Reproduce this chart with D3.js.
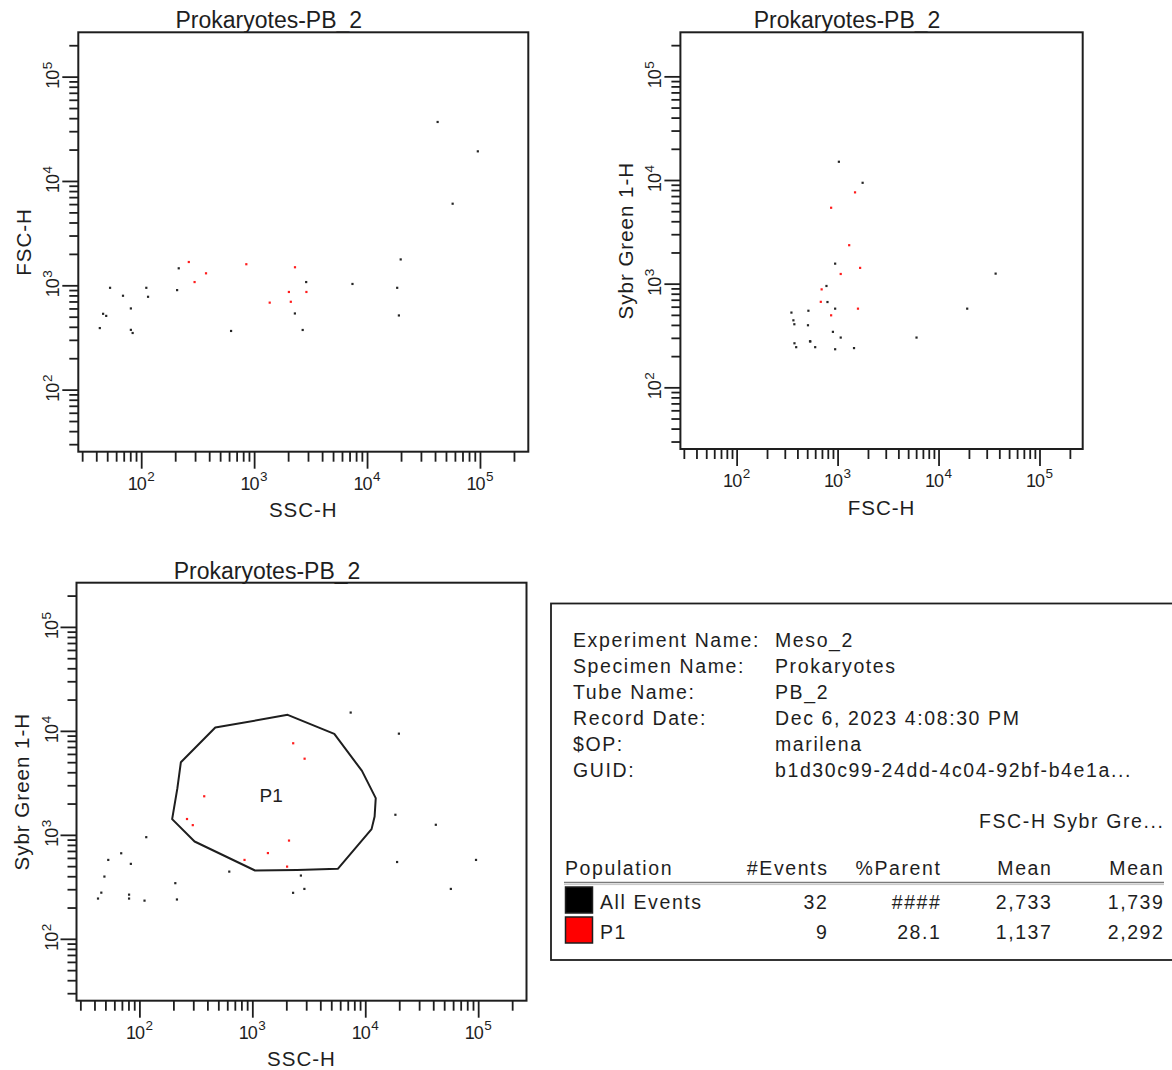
<!DOCTYPE html>
<html>
<head>
<meta charset="utf-8">
<script src="https://cdn.jsdelivr.net/npm/d3@7"></script>
<style>
  body { margin: 0; background: #fff; }
  svg { display: block; }
  text { font-family: "Liberation Sans", Arial, sans-serif; fill: #1e1e1e; }
</style>
</head>
<body>
<svg id="chart" width="1172" height="1070"></svg>
<script>
// Recorded events: one entry per event, same order in every array
const ssc  = [264, 853, 2301, 375, 297, 2032, 2904, 2113, 1374,
              42170, 95719, 57280, 19861, 215, 2891, 7430, 53, 111, 18493,
              208, 69, 115, 81, 2296, 19143, 46, 49, 43, 81, 84, 625, 2692];
const fsc  = [1672, 1592, 1489, 1303, 1074, 863, 863, 695, 682,
              36770, 19231, 6053, 1770, 1455, 1074, 1030, 946, 946, 946,
              899, 794, 776, 600, 537, 514, 533, 509, 389, 374, 349, 365, 373];
const sybr = [1420, 574, 7600, 2350, 1240, 495, 5400, 881, 668,
              1250, 574, 302, 9400, 239, 302, 15000, 574, 233, 1560,
              343, 665, 950, 244, 277, 548, 278, 397, 244, 266, 526, 443, 406];

// P1 gate outline on SSC-H vs Sybr Green 1-H
const gateSSC  = [470, 2056, 5321, 9354, 12388, 12106, 11376, 5715, 2489, 1057, 308, 195, 217, 233];
const gateSybr = [10765, 14256, 9354, 4121, 2254, 1500, 1135, 471, 460, 454, 863, 1416, 2812, 5000];
const gateLabelAt = [1469, 2388];

// Decade exponents shown on every log axis
const decadeExponents = [2, 3, 4, 5];

// Experiment header block
const infoLabels = ["Experiment Name:", "Specimen Name:", "Tube Name:", "Record Date:", "$OP:", "GUID:"];
const infoValues = ["Meso_2", "Prokaryotes", "PB_2", "Dec 6, 2023 4:08:30 PM", "marilena", "b1d30c99-24dd-4c04-92bf-b4e1a..."];
const populationNames = ["All Events", "P1"];
const populationColors = ["#000000", "#ff0000"];
const plotTitle = "Prokaryotes-PB_2";

// Display range of the log axes
const xDomain = [Math.pow(10, 1.443), Math.pow(10, 5.428)];
const yDomain = [Math.pow(10, 1.405), Math.pow(10, 5.425)];

const svg = d3.select("#chart");

const gatePoly = gateSSC.map((v, i) => [Math.log10(v), Math.log10(gateSybr[i])]);
const events = ssc.map((v, i) => {
  const e = { ssc: v, fsc: fsc[i], sybr: sybr[i] };
  e.inP1 = d3.polygonContains(gatePoly, [Math.log10(e.ssc), Math.log10(e.sybr)]);
  return e;
});

function tickSets(domain) {
  const major = [], minor = [];
  for (let k = 1; k <= 5; k++) {
    for (let m = 1; m <= 9; m++) {
      const v = m * Math.pow(10, k);
      if (v < domain[0] || v > domain[1]) continue;
      (m === 1 ? major : minor).push(v);
    }
  }
  return { major, minor };
}

function styleAxis(sel) {
  sel.select(".domain").remove();
  sel.selectAll(".tick line").attr("stroke", "#1e1e1e").attr("stroke-width", 1.8);
}

// "10" with a raised exponent, centred on the group origin
function decadeLabel(g, exp, raise) {
  const t = g.append("text").attr("text-anchor", "middle");
  t.append("tspan").attr("font-size", 18).attr("letter-spacing", -1).text("10");
  t.append("tspan").attr("font-size", 13.5).attr("dx", 1.5).attr("dy", -raise).text(exp);
}

const plots = [
  { left: 78.3, right: 528.3, top: 32.3, bottom: 451.7, xKey: "ssc", yKey: "fsc", xTitle: "SSC-H", yTitle: "FSC-H" },
  { left: 680.4, right: 1082.7, top: 32.3, bottom: 449, xKey: "fsc", yKey: "sybr", xTitle: "FSC-H", yTitle: "Sybr Green 1-H" },
  { left: 76.5, right: 526.5, top: 582.7, bottom: 1000.7, xKey: "ssc", yKey: "sybr", xTitle: "SSC-H", yTitle: "Sybr Green 1-H", gate: true }
];

const xt = tickSets(xDomain), yt = tickSets(yDomain);

plots.forEach(p => {
  const x = d3.scaleLog().domain(xDomain).range([p.left, p.right]);
  const y = d3.scaleLog().domain(yDomain).range([p.bottom, p.top]);
  const g = svg.append("g");

  // events
  g.append("g").selectAll("rect")
    .data(events.slice().sort((a, b) => a.inP1 - b.inP1))
    .join("rect")
    .attr("x", d => x(d[p.xKey]) - 1.1)
    .attr("y", d => y(d[p.yKey]) - 1.1)
    .attr("width", 2.2).attr("height", 2.2)
    .attr("fill", d => d.inP1 ? "#ff1c1c" : "#262626");

  // gate
  if (p.gate) {
    const line = d3.line().x(d => x(d[0])).y(d => y(d[1])).curve(d3.curveLinearClosed);
    g.append("path")
      .attr("d", line(gateSSC.map((v, i) => [v, gateSybr[i]])))
      .attr("fill", "none").attr("stroke", "#1e1e1e").attr("stroke-width", 2)
      .attr("stroke-linejoin", "round");
    g.append("text")
      .attr("x", x(gateLabelAt[0])).attr("y", y(gateLabelAt[1]))
      .attr("text-anchor", "middle").attr("dominant-baseline", "central")
      .attr("font-size", 19).text("P1");
  }

  // bottom axis
  g.append("g").attr("transform", `translate(0,${p.bottom})`)
    .call(d3.axisBottom(x).tickValues(xt.minor).tickSize(10).tickFormat(""))
    .call(styleAxis);
  g.append("g").attr("transform", `translate(0,${p.bottom})`)
    .call(d3.axisBottom(x).tickValues(xt.major).tickSize(17).tickFormat(""))
    .call(styleAxis);
  decadeExponents.forEach(k => {
    const lg = g.append("g").attr("transform", `translate(${x(Math.pow(10, k))},${p.bottom + 38.3})`);
    decadeLabel(lg, k, 9.5);
  });

  // left axis
  g.append("g").attr("transform", `translate(${p.left},0)`)
    .call(d3.axisLeft(y).tickValues(yt.minor).tickSize(9).tickFormat(""))
    .call(styleAxis);
  g.append("g").attr("transform", `translate(${p.left},0)`)
    .call(d3.axisLeft(y).tickValues(yt.major).tickSize(16).tickFormat(""))
    .call(styleAxis);
  decadeExponents.forEach(k => {
    const lg = g.append("g").attr("transform", `translate(${p.left - 19},${y(Math.pow(10, k)) - 1.5}) rotate(-90)`);
    decadeLabel(lg, k, 7);
  });

  // frame
  g.append("rect")
    .attr("x", p.left).attr("y", p.top)
    .attr("width", p.right - p.left).attr("height", p.bottom - p.top)
    .attr("fill", "none").attr("stroke", "#1e1e1e").attr("stroke-width", 2);

  // titles
  g.append("text")
    .attr("x", (p.left + p.right) / 2 - 34.5).attr("y", p.top - 4)
    .attr("text-anchor", "middle").attr("font-size", 23)
    .text(plotTitle);
  g.append("text")
    .attr("x", (p.left + p.right) / 2).attr("y", p.bottom + 65.6)
    .attr("text-anchor", "middle").attr("font-size", 20.5)
    .attr("letter-spacing", 1)
    .text(p.xTitle);
  g.append("text")
    .attr("transform", `translate(${p.left - 47.5},${(p.top + p.bottom) / 2}) rotate(-90)`)
    .attr("text-anchor", "middle").attr("font-size", 20.5)
    .attr("letter-spacing", 1)
    .text(p.yTitle);
});

// statistics table
const T = svg.append("g").attr("font-size", 19.5).attr("letter-spacing", 1.6);
T.append("rect")
  .attr("x", 551).attr("y", 603.5).attr("width", 650).attr("height", 356.5)
  .attr("fill", "none").attr("stroke", "#1e1e1e").attr("stroke-width", 1.8);

function txt(x, y, s, anchor) {
  return T.append("text").attr("x", x).attr("y", y)
    .attr("text-anchor", anchor || "start").text(s);
}

infoLabels.forEach((s, i) => {
  txt(573, 646.7 + 26 * i, s);
  txt(775, 646.7 + 26 * i, infoValues[i]);
});

const colEnd = [828.5, 941.5, 1052.5, 1164.5];
txt(979, 828.3, "FSC-H");
txt(colEnd[3], 828.3, "Sybr Gre...", "end");
txt(565, 875, "Population");
txt(colEnd[0], 875, "#Events", "end");
txt(colEnd[1], 875, "%Parent", "end");
txt(colEnd[2], 875, "Mean", "end");
txt(colEnd[3], 875, "Mean", "end");

T.append("line").attr("x1", 564).attr("x2", 1164).attr("y1", 882.5).attr("y2", 882.5)
  .attr("stroke", "#7a7a7a").attr("stroke-width", 1.6);
T.append("line").attr("x1", 564).attr("x2", 1164).attr("y1", 884.6).attr("y2", 884.6)
  .attr("stroke", "#c4c4c4").attr("stroke-width", 1);

const fmt = d3.format(",.0f");
const groups = [events, events.filter(e => e.inP1)];
groups.forEach((rows, i) => {
  const base = 909 + 30 * i;
  T.append("rect").attr("x", 565.5).attr("y", base - 22).attr("width", 27).attr("height", 26)
    .attr("fill", populationColors[i]).attr("stroke", "#1e1e1e").attr("stroke-width", 1.5);
  txt(600, base, populationNames[i]);
  txt(colEnd[0], base, String(rows.length), "end");
  const pct = i === 0 ? "####" : (100 * rows.length / groups[0].length).toFixed(1);
  txt(colEnd[1], base, pct, "end");
  txt(colEnd[2], base, fmt(d3.mean(rows, d => d.fsc)), "end");
  txt(colEnd[3], base, fmt(d3.mean(rows, d => d.sybr)), "end");
});
</script>
</body>
</html>
